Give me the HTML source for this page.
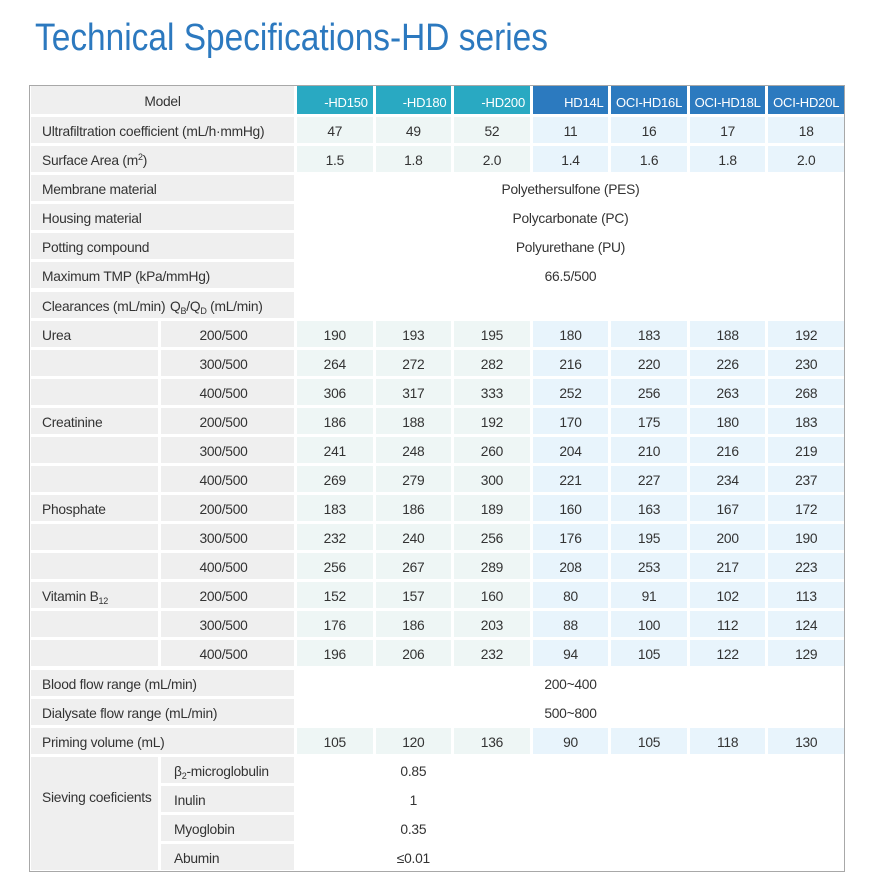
<!DOCTYPE html>
<html>
<head>
<meta charset="utf-8">
<style>
html,body{margin:0;padding:0;}
body{width:877px;height:893px;background:#fff;position:relative;overflow:hidden;font-family:"Liberation Sans",sans-serif;}
.title{position:absolute;left:35px;top:19px;font-size:38px;line-height:38px;color:#2C79BF;white-space:nowrap;transform:scaleX(0.88);transform-origin:0 0;}
.box{position:absolute;left:29px;top:85px;width:814px;height:785px;border:1px solid #a8a8a8;}
.grid{position:absolute;left:31px;top:86px;width:813px;display:grid;grid-template-columns:127px 133px repeat(7,1fr);grid-template-rows:28px repeat(26,26px);column-gap:3px;row-gap:3.08px;font-size:13.8px;letter-spacing:-0.25px;color:#333;}
.grid>div{box-sizing:border-box;padding-top:4px;line-height:22px;white-space:nowrap;position:relative;}
.g{background:#efefef;}
.l{padding-left:11px;}
.c{text-align:center;}
.q{text-align:center;padding-right:8px;}
.a{background:#eef6f5;text-align:center;}
.b{background:#e8f4fc;text-align:center;}
.grid>div.h{color:#fff;text-align:center;padding-top:6px;font-size:13px;letter-spacing:-0.2px;}
.grid>div.m{padding-top:5px;text-align:center;}
.ha{background:#29a9c2;}
.hb{background:#2c7abf;}
.t{color:transparent;}
.s2{grid-column:span 2;}
.s7{grid-column:span 7;}
.c2{grid-column:2;}
.sv{grid-column:3 / 6;text-align:center;}
.sub{font-size:9px;vertical-align:-3px;line-height:0;}
.sup{font-size:9px;vertical-align:5px;line-height:0;}
.grid>div.sieve{grid-row:span 4;padding-top:30px;}
.sl{padding-left:13px;}
</style>
</head>
<body>
<div class="title">Technical Specifications-HD series</div>
<div class="box"></div>
<div class="grid">
  <!-- header -->
  <div class="g s2 m">Model</div>
  <div class="h ha"><span class="t">OCI</span>-HD150</div>
  <div class="h ha"><span class="t">OCI</span>-HD180</div>
  <div class="h ha"><span class="t">OCI</span>-HD200</div>
  <div class="h hb"><span class="t">OCI-</span>HD14L</div>
  <div class="h hb">OCI-HD16L</div>
  <div class="h hb">OCI-HD18L</div>
  <div class="h hb">OCI-HD20L</div>

  <div class="g s2 l">Ultrafiltration coefficient (mL/h·mmHg)</div>
  <div class="a">47</div><div class="a">49</div><div class="a">52</div>
  <div class="b">11</div><div class="b">16</div><div class="b">17</div><div class="b">18</div>

  <div class="g s2 l">Surface Area (m<span class="sup">2</span>)</div>
  <div class="a">1.5</div><div class="a">1.8</div><div class="a">2.0</div>
  <div class="b">1.4</div><div class="b">1.6</div><div class="b">1.8</div><div class="b">2.0</div>

  <div class="g s2 l">Membrane material</div>
  <div class="s7 c">Polyethersulfone (PES)</div>

  <div class="g s2 l">Housing material</div>
  <div class="s7 c">Polycarbonate (PC)</div>

  <div class="g s2 l">Potting compound</div>
  <div class="s7 c">Polyurethane (PU)</div>

  <div class="g s2 l">Maximum TMP (kPa/mmHg)</div>
  <div class="s7 c">66.5/500</div>

  <div class="g s2 l">Clearances (mL/min)<span style="position:absolute;left:139px;top:4px;">Q<span class="sub">B</span>/Q<span class="sub">D</span> (mL/min)</span></div>
  <div class="s7"></div>

  <!-- Urea -->
  <div class="g l">Urea</div><div class="g q">200/500</div>
  <div class="a">190</div><div class="a">193</div><div class="a">195</div>
  <div class="b">180</div><div class="b">183</div><div class="b">188</div><div class="b">192</div>

  <div class="g l"></div><div class="g q">300/500</div>
  <div class="a">264</div><div class="a">272</div><div class="a">282</div>
  <div class="b">216</div><div class="b">220</div><div class="b">226</div><div class="b">230</div>

  <div class="g l"></div><div class="g q">400/500</div>
  <div class="a">306</div><div class="a">317</div><div class="a">333</div>
  <div class="b">252</div><div class="b">256</div><div class="b">263</div><div class="b">268</div>

  <!-- Creatinine -->
  <div class="g l">Creatinine</div><div class="g q">200/500</div>
  <div class="a">186</div><div class="a">188</div><div class="a">192</div>
  <div class="b">170</div><div class="b">175</div><div class="b">180</div><div class="b">183</div>

  <div class="g l"></div><div class="g q">300/500</div>
  <div class="a">241</div><div class="a">248</div><div class="a">260</div>
  <div class="b">204</div><div class="b">210</div><div class="b">216</div><div class="b">219</div>

  <div class="g l"></div><div class="g q">400/500</div>
  <div class="a">269</div><div class="a">279</div><div class="a">300</div>
  <div class="b">221</div><div class="b">227</div><div class="b">234</div><div class="b">237</div>

  <!-- Phosphate -->
  <div class="g l">Phosphate</div><div class="g q">200/500</div>
  <div class="a">183</div><div class="a">186</div><div class="a">189</div>
  <div class="b">160</div><div class="b">163</div><div class="b">167</div><div class="b">172</div>

  <div class="g l"></div><div class="g q">300/500</div>
  <div class="a">232</div><div class="a">240</div><div class="a">256</div>
  <div class="b">176</div><div class="b">195</div><div class="b">200</div><div class="b">190</div>

  <div class="g l"></div><div class="g q">400/500</div>
  <div class="a">256</div><div class="a">267</div><div class="a">289</div>
  <div class="b">208</div><div class="b">253</div><div class="b">217</div><div class="b">223</div>

  <!-- Vitamin B12 -->
  <div class="g l">Vitamin B<span class="sub">12</span></div><div class="g q">200/500</div>
  <div class="a">152</div><div class="a">157</div><div class="a">160</div>
  <div class="b">80</div><div class="b">91</div><div class="b">102</div><div class="b">113</div>

  <div class="g l"></div><div class="g q">300/500</div>
  <div class="a">176</div><div class="a">186</div><div class="a">203</div>
  <div class="b">88</div><div class="b">100</div><div class="b">112</div><div class="b">124</div>

  <div class="g l"></div><div class="g q">400/500</div>
  <div class="a">196</div><div class="a">206</div><div class="a">232</div>
  <div class="b">94</div><div class="b">105</div><div class="b">122</div><div class="b">129</div>

  <div class="g s2 l">Blood flow range (mL/min)</div>
  <div class="s7 c">200~400</div>

  <div class="g s2 l">Dialysate flow range (mL/min)</div>
  <div class="s7 c">500~800</div>

  <div class="g s2 l">Priming volume (mL)</div>
  <div class="a">105</div><div class="a">120</div><div class="a">136</div>
  <div class="b">90</div><div class="b">105</div><div class="b">118</div><div class="b">130</div>

  <!-- Sieving -->
  <div class="g l sieve">Sieving coeficients</div>
  <div class="g sl c2">β<span class="sub">2</span>-microglobulin</div>
  <div class="sv">0.85</div>
  <div class="g sl c2">Inulin</div>
  <div class="sv">1</div>
  <div class="g sl c2">Myoglobin</div>
  <div class="sv">0.35</div>
  <div class="g sl c2">Abumin</div>
  <div class="sv">≤0.01</div>
</div>
</body>
</html>
